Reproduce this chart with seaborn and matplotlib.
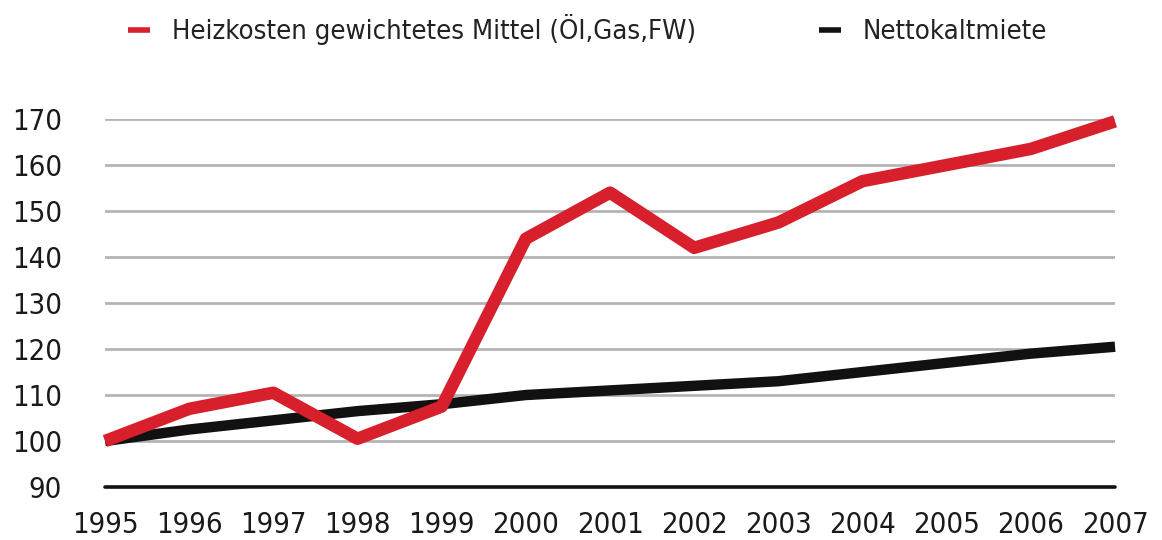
import pandas as pd
import matplotlib.pyplot as plt
import seaborn as sns
from matplotlib.lines import Line2D

years = list(range(1995, 2008))
heizkosten = [100, 107, 110.5, 100.5, 107.5, 144, 154, 142, 147.5, 156.5, 160, 163.5, 169.5]
nettokaltmiete = [100, 102.5, 104.5, 106.5, 108, 110, 111, 112, 113, 115, 117, 119, 120.5]
labels = ["Heizkosten gewichtetes Mittel (ÖI,Gas,FW)", "Nettokaltmiete"]
colors = ["#d7202b", "#111111"]
yticks = [90, 100, 110, 120, 130, 140, 150, 160, 170]

df = pd.DataFrame({"Jahr": years * 2,
                   "Wert": heizkosten + nettokaltmiete,
                   "Reihe": [labels[0]] * len(years) + [labels[1]] * len(years)})

sns.set_style("white")
plt.rcParams['font.family'] = ['DejaVu Sans']
plt.rcParams['font.stretch'] = 'condensed'

fig = plt.figure(figsize=(11.62, 5.40), dpi=100)
ax = fig.add_axes([0.0904, 0.0981, 0.8692, 0.6815])

# gridlines first so the series sit on top
for y in yticks[1:]:
    ax.axhline(y, color="#b4b4b4", linewidth=2.0, zorder=1)
ax.axhline(90, color="#111111", linewidth=2.6, zorder=1, clip_on=False)

sns.lineplot(data=df, x="Jahr", y="Wert", hue="Reihe", hue_order=labels[::-1],
             palette=dict(zip(labels, colors)), ax=ax, legend=False, zorder=3)
widths = {labels[0]: 9, labels[1]: 7.5}
for line, lab in zip([l for l in ax.get_lines() if len(l.get_xdata()) == len(years)], labels[::-1]):
    line.set_linewidth(widths[lab])
    line.set_solid_capstyle("butt")
    line.set_solid_joinstyle("round")
    line.set_clip_on(False)

ax.set_xlim(1995, 2007)
ax.set_ylim(90, 170)
ax.set_xticks(years)
ax.set_yticks(yticks)
ax.tick_params(axis="y", length=0, pad=31, labelsize=21, labelcolor="#1a1a1a")
ax.tick_params(axis="x", length=0, pad=17, labelsize=21, labelcolor="#1a1a1a")
ax.set_xlabel("")
ax.set_ylabel("")
for s in ax.spines.values():
    s.set_visible(False)

handles = [Line2D([0], [0], color=c, linewidth=4, solid_capstyle="butt") for c in colors]
fig.legend(handles, labels, loc="center left", bbox_to_anchor=(0.089, 0.945), ncol=2,
           frameon=False, fontsize=19.7, handlelength=0.8, handletextpad=0.8,
           columnspacing=4.5, labelcolor="#222222")

fig.savefig("out.png", dpi=100)
